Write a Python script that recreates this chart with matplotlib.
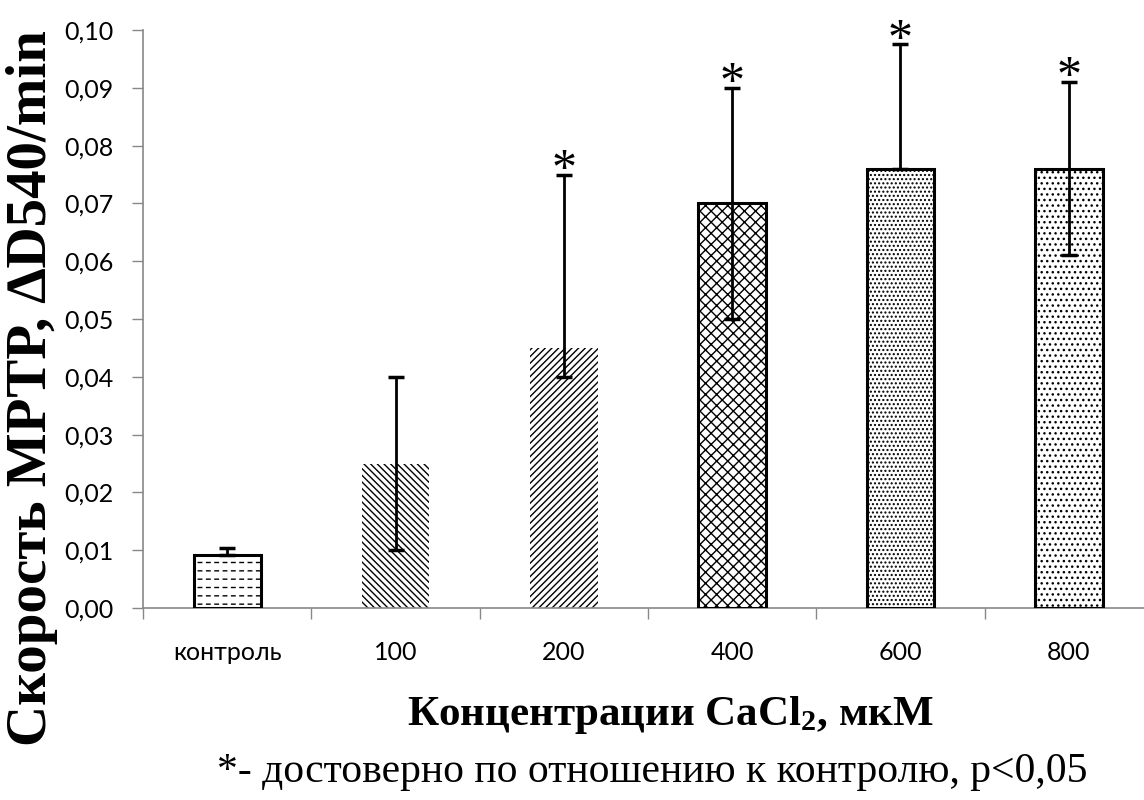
import matplotlib
matplotlib.use("Agg")
import matplotlib.pyplot as plt
import numpy as np

categories = ["контроль", "100", "200", "400", "600", "800"]
values = [0.0092, 0.025, 0.045, 0.070, 0.076, 0.076]
err_low = [0.0, 0.015, 0.005, 0.020, 0.0, 0.015]
err_high = [0.0012, 0.015, 0.030, 0.020, 0.0215, 0.015]
significant = [False, False, True, True, True, True]
yticks = [0.00, 0.01, 0.02, 0.03, 0.04, 0.05, 0.06, 0.07, 0.08, 0.09, 0.10]

hatches = ["--", "\\\\\\\\\\", "/////", "xxx", "....", "..."]
outlined = [True, False, False, True, True, True]

plt.rcParams['mathtext.fontset'] = 'custom'
plt.rcParams['mathtext.bf'] = 'Liberation Serif:bold'
plt.rcParams['mathtext.rm'] = 'Liberation Serif'
plt.rcParams['mathtext.default'] = 'bf'
plt.rcParams['hatch.linewidth'] = 1.0

fig = plt.figure(figsize=(11.44, 8.0), dpi=100)
ax = fig.add_axes([143/1144, 192/800, 1010/1144, 578/800])

x = np.arange(len(categories))
for i in range(len(categories)):
    ax.bar(x[i], values[i], width=0.4, facecolor="white", edgecolor="black",
           hatch=hatches[i], linewidth=0, zorder=2)
    if i == 0:
        # break the horizontal lines into dashes with white vertical hatch
        plt.rcParams['hatch.linewidth'] = 2.5
        ax.bar(x[i], values[i], width=0.4, facecolor="none", edgecolor="white",
               hatch="||", linewidth=0, zorder=2.1)
        plt.rcParams['hatch.linewidth'] = 1.0
    if outlined[i]:
        ax.bar(x[i], values[i], width=0.4, facecolor="none", edgecolor="black",
               linewidth=2.2, zorder=3)

ax.errorbar(x, values, yerr=[err_low, err_high], fmt="none", ecolor="black",
            elinewidth=2.0, capsize=6, capthick=2.5, zorder=4)

for i in range(len(categories)):
    if significant[i]:
        ax.annotate("*", (x[i], values[i] + err_high[i]), xytext=(0, -14),
                    textcoords="offset points", ha="center", va="bottom",
                    fontsize=36, family="Liberation Serif", zorder=5)

ax.set_xlim(-0.5, 5.5)
ax.set_ylim(0, 0.10)
ax.set_yticks(yticks)
ax.set_yticklabels([f"{v:.2f}".replace(".", ",") for v in yticks],
                   fontsize=18, family="Lato")
ax.set_xticks(x)
ax.set_xticklabels(categories, fontsize=18, family="Lato")
ax.set_xticks(np.arange(-0.5, 6.0, 1.0), minor=True)
ax.tick_params(axis="x", which="major", length=0, pad=24)
ax.tick_params(axis="x", which="minor", length=8, width=1, color="#888888", direction="out")
ax.tick_params(axis="y", length=8, width=1, color="#888888", direction="out", pad=13)

for s in ["top", "right"]:
    ax.spines[s].set_visible(False)
for s in ["left", "bottom"]:
    ax.spines[s].set_color("#888888")
    ax.spines[s].set_linewidth(1.2)

fig.text(32/1144, 1 - 388/800, "Скорость МРТР, \u2206D540/min", rotation=90,
         ha="center", va="center", fontsize=41, fontweight="bold",
         family=["Liberation Serif", "DejaVu Serif"])
fig.text(670/1144, 1 - 715/800, "Концентрации CaCl$_2$, мкМ", ha="center", va="center",
         fontsize=31, fontweight="bold", family="Liberation Serif")
fig.text(652/1144, 1 - 772/800, "*- достоверно по отношению к контролю, p<0,05",
         ha="center", va="center", fontsize=30, family="Liberation Serif")

fig.savefig("out.png", dpi=100)
